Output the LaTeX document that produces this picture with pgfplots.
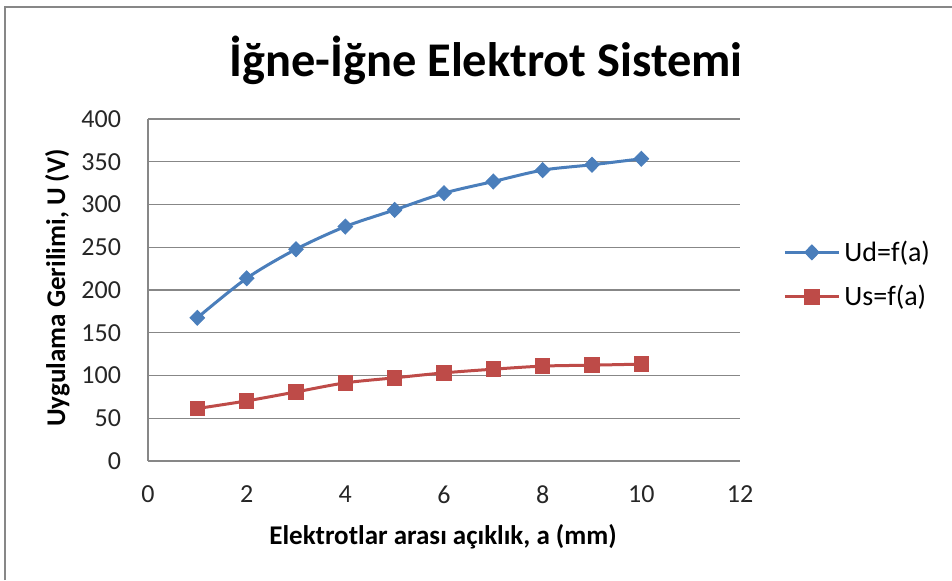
\documentclass[border=0pt]{standalone}
\usepackage{fontspec}
\setmainfont{Carlito}
\usepackage{pgfplots}
\pgfplotsset{compat=1.18}
\definecolor{udblue}{HTML}{4A7EBB}
\definecolor{usred}{HTML}{BE4B48}
\definecolor{gridgray}{HTML}{878787}
\begin{document}
\begin{tikzpicture}
\useasboundingbox (0,0) rectangle (476pt,290pt);
\draw[gridgray, line width=1pt] (2.5pt,0) -- (2.5pt,286.5pt) -- (476pt,286.5pt);
\begin{axis}[
  at={(74pt,59.5pt)}, anchor=south west,
  scale only axis, width=296pt, height=171pt,
  xmin=0, xmax=12, ymin=0, ymax=400,
  xtick={0,2,...,12}, ytick={0,50,...,400},
  axis x line*=bottom, axis y line*=left,
  axis line style={gridgray, line width=0.6pt, -},
  ymajorgrids, grid style={gridgray, line width=0.6pt},
  major tick length=0pt,
  tick label style={font=\fontsize{13}{15}\selectfont, text=black!85},
  /pgf/number format/assume math mode=true,
  yticklabel style={xshift=-10pt},
  xticklabel style={yshift=-9pt},
  legend style={at={(1.0726,0.545)}, anchor=west, draw=none, fill=none,
    font=\fontsize{14}{16}\selectfont, row sep=6.5pt, inner sep=0pt,
    /tikz/every even column/.append style={column sep=0pt}},
  legend cell align=left,
  legend image code/.code={%
    \draw[#1] (0pt,0pt) -- (27pt,0pt);
    \draw[#1, only marks] plot coordinates {(13.5pt,0pt)};},
  clip=false,
]
\addplot[udblue, line width=1.5pt, smooth, tension=0.5, mark=diamond*, mark size=3.7pt, mark options={fill=udblue, draw=udblue, line width=0.5pt, xscale=1.3}]
  coordinates {(1,167.5) (2,213.7) (3,247.7) (4,274.2) (5,293.7) (6,313.3) (7,326.9) (8,340.2) (9,346.5) (10,353.5)};
\addlegendentry{Ud=f(a)}
\addplot[usred, line width=1.5pt, smooth, tension=0.5, mark=square*, mark size=3.6pt, mark options={fill=usred, draw=usred, line width=0.5pt}]
  coordinates {(1,61.4) (2,70.3) (3,80.8) (4,91.4) (5,97.3) (6,103.1) (7,107.4) (8,111.0) (9,112.1) (10,113.3)};
\addlegendentry{Us=f(a)}
\end{axis}
\node[font=\fontsize{24.2}{27}\selectfont\bfseries, anchor=base] at (243pt,252pt) {İğne-İğne Elektrot Sistemi};
\node[font=\fontsize{13.5}{15}\selectfont\bfseries, anchor=base] at (221.5pt,18pt) {Elektrotlar arası açıklık, a (mm)};
\node[font=\fontsize{13.5}{15}\selectfont\bfseries, rotate=90, anchor=base] at (32.5pt,146pt) {Uygulama Gerilimi, U (V)};
\end{tikzpicture}
\end{document}
